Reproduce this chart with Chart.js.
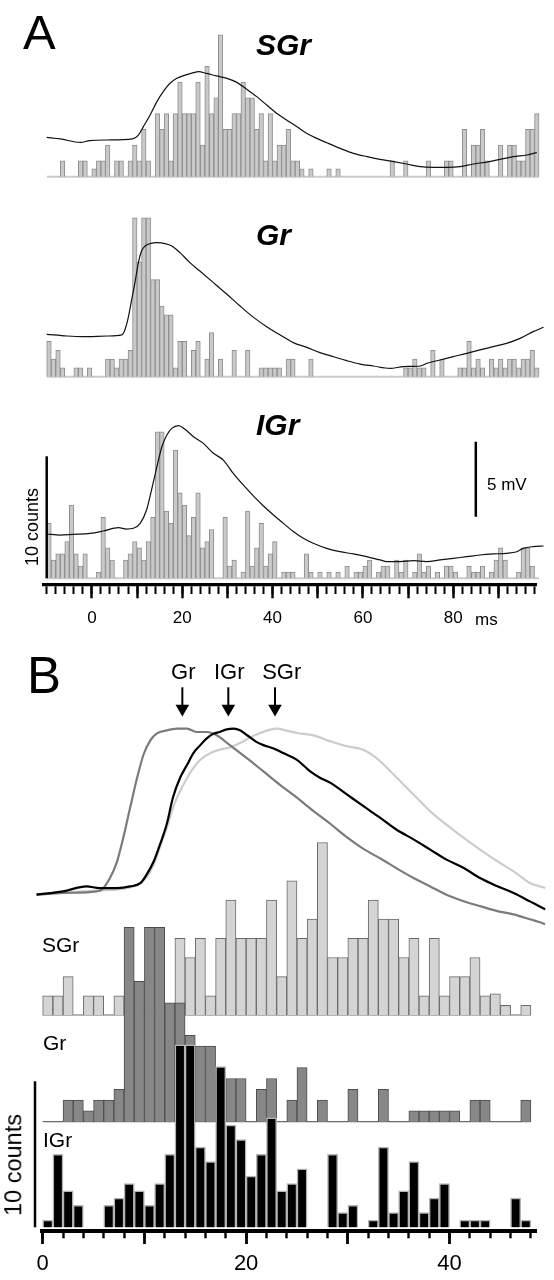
<!DOCTYPE html>
<html>
<head>
<meta charset="utf-8">
<script src="https://cdn.jsdelivr.net/npm/chart.js@4.4.1/dist/chart.umd.min.js"></script>
<style>
  body { margin: 0; background: #fff; }
  #wrap { position: relative; width: 554px; height: 1280px; overflow: hidden; font-family: "Liberation Sans", Arial, sans-serif; }
  canvas { position: absolute; left: 0; }
  .t { position: absolute; white-space: nowrap; line-height: 1; color: #000; }
</style>
</head>
<body>
<div id="wrap">
  <canvas id="chartA" width="554" height="640" style="top:0"></canvas>
  <canvas id="chartB" width="554" height="640" style="top:640px"></canvas>
</div>
<script>
// ---------- Panel A: 1 ms bins starting at -10 ms ----------
const binStartA = -10;
const countsSGrA = [
  0,0,0,1,0,0,0,1,1,0,  0.5,1,1,2,0,1,1,0,1,2,  1,3,1,0,4,3,4,1,4,6,
  4,4,4,6,2,7,4,5,9,3,  3,4,4,6,5,5,3,4,1,4,    1,2,2,3,1,1,0.5,0,0.5,0,
  0,0,0.5,0,0.5,0,0,0,0,0,  0,0,0,0,0,0,1,0,0,1,  0,0,0,0,1,0,0,0,1,1,
  0,0,3,0,2,2,3,1,0,0,  2,0,2,2,1,1,3,3,4
];
const countsGrA = [
  4,2,3,1,0,0,1,1,0,1,  0,0,0,2,2,1,2,2,3,18,  13,18,18,11,11,8,7,7,1,4,
  4,0,3,4,0,2,5,0,2,0,  0,3,0,0,3,0,0,1,1,1,   1,1,0,2,2,0,0,0,2,0,
  0,0,0,0,0,0,0,0,0,0,  0,0,0,0,0,0,0,0,0,1,   1,2,1,1,0,3,0,2,0,0,
  0,1,1,4,1,2,1,0,2,1,  2,1,2,2,1,2,2,3,1
];
const countsIGrA = [
  4.5,1.5,2,2,3,6,2,1,2,0,  0,0.5,5,2.5,1.5,0,0,1.5,2,3,  2.5,1.5,3,5,12,12,5.5,4.5,10.5,7,
  6,3.5,5,7,2.5,3,4,0,0,5,  1,1.5,0,0.5,5.5,1,2.5,4.5,1,2,  3,0,0.5,0.5,0.5,0,0,2,0.5,0,
  0.5,0,0.5,0,0.5,0,1,0,0.5,0.5,  1,1.5,0,0.5,1,1,0,1.5,0.5,1.5,  0,0.5,2,0.5,1,0,0.5,0,1,1,
  0.5,0,0,1,0.5,0.5,1,0,0.5,1.5,  2.5,1.5,0,0,0.5,2.5,2.5,1,0
];

// membrane potential (mV, relative to pre-stimulus level)
const timeSGrA = [-10,-7,-2.5,-0.5,3.5,9,10.3,11.4,12.9,14.4,15.8,17.3,18.8,20.3,22.5,23.6,25.4,27.6,29.9,32.1,34.3,36.5,38.7,40.9,43.1,45.4,47.6,49.8,52,55,57.9,60.9,63.8,66.8,69.7,72.7,75.6,78.6,81.5,84.5,87.4,90.4,93.3,96.3,98.5,100];
const mvSGrA = [0.18,0.07,-0.16,-0.04,0,0.07,0.33,0.89,1.67,2.56,3.22,3.78,4.11,4.29,4.49,4.56,4.44,4.27,4.11,3.84,3.38,2.89,2.33,1.78,1.33,0.89,0.44,0.11,-0.18,-0.56,-0.89,-1.11,-1.29,-1.44,-1.6,-1.78,-1.82,-1.82,-1.78,-1.6,-1.47,-1.29,-1.11,-1.0,-0.84,-0.73];
const timeGrA = [-10,-5.5,-2,3.5,6.6,7.3,8.1,8.8,9.6,10.3,11,11.8,12.9,14.4,16.2,17.7,19.5,21.7,23.9,26.9,29.9,32.8,35.8,38.7,41.7,44.6,47.6,50.5,53.5,56.4,59.4,62.3,66,69,72.7,74.2,77.1,80,83,85.9,88.9,91.8,94.8,97.7,100];
const mvGrA = [0.11,0,-0.04,0,0.07,0.4,1.29,2.4,3.67,4.89,5.67,6.0,6.16,6.22,6.16,6.0,5.56,4.89,4.33,3.56,2.78,2.0,1.24,0.62,0.07,-0.44,-0.76,-1.11,-1.38,-1.64,-1.87,-2.0,-2.16,-2.04,-2.0,-1.82,-1.6,-1.38,-1.16,-0.93,-0.71,-0.49,-0.16,0.29,0.58];
const timeIGrA = [-10,-7,-4.1,-0.4,2.5,5.9,7.7,9.2,10.7,12.1,13.2,14.4,15.5,16.6,17.7,19.2,20.6,22.5,24.7,26.9,29.1,31.3,33.5,35.8,38,40.2,42.4,44.6,46.8,49,52,54.9,57.9,60.8,63.8,65.3,68.2,71.2,74.1,77.1,80,83,85.9,88.9,91.8,94.1,95.5,97.7,100];
const mvIGrA = [0,-0.07,-0.02,0.04,0.2,0.42,0.33,0.38,0.71,1.6,2.93,4.49,5.82,6.6,7.04,7.22,6.98,6.49,6.04,5.38,4.93,4.04,3.27,2.53,1.87,1.27,0.71,0.16,-0.29,-0.62,-0.96,-1.18,-1.33,-1.51,-1.73,-1.84,-1.84,-1.78,-1.84,-1.73,-1.62,-1.51,-1.4,-1.33,-1.29,-1.18,-0.96,-0.84,-0.8];

const tickLabelsA = [0, 20, 40, 60, 80];

// ---------- Panel B: 1 ms bins from 0 ----------
const binStartB = 0;
const countsSGrB = [1,1,2,0,1,1,0,1,0,0, 0,0,0,4,3,4,1,4,6,4, 4,4,6,2,7,4,5,9,3,3, 4,4,6,5,5,3,4,1,4,1, 2,2,3,1,1.1,0.5,0,0.5];
const countsGrB  = [0,0,1,1,0.5,1,1,1.5,9,6.5, 9,9,5.5,5.5,4,3.5,3.5,2,2,2, 0,1.5,2,0,1,2.5,0,1,0,0, 1.5,0,0,1.5,0,0,0.5,0.5,0.5,0.5, 0.5,0,1,1,0,0,0,1];
const countsIGrB = [0.5,5,2.5,1.5,0,0,1.5,2,3,2.5, 1.5,3,5,12.5,12.5,5.5,4.5,11,7,6, 3.5,5,7.5,2.5,3,4,0,0,5,1, 1.5,0,0.5,5.5,1,2.5,4.5,1,2,3, 0,0.5,0.5,0.5,0,0,2,0.5];

// normalised averaged PSPs
const timeGrB = [-0.6,2,5.3,5.8,6.6,7.3,7.9,8.6,9.2,9.9,10.6,11.2,12.2,13.2,14.2,15.1,16.1,17.1,18.4,20.1,21.7,23.3,25,26.6,28.3,29.9,31.5,33.2,34.8,36.5,38.1,39.7,41.4,43,44.7,46.3,47.9,49.4,50.3];
const normGrB = [-0.01,0,0.01,0.02,0.09,0.19,0.33,0.52,0.68,0.84,0.93,0.97,0.99,1,1,0.98,0.98,0.96,0.9,0.82,0.74,0.66,0.58,0.5,0.42,0.34,0.27,0.21,0.15,0.09,0.04,-0.01,-0.05,-0.08,-0.11,-0.13,-0.16,-0.19,-0.225];
const timeIGrB = [-0.6,2,4.3,5.6,7.3,8.6,9.6,10.2,10.9,11.5,12.2,12.8,13.5,14.2,14.8,15.5,16.1,16.8,17.4,18.1,18.8,19.4,20.1,21,21.7,22.7,23.7,25,26.3,27.3,28.3,29.9,31.5,33.2,34.8,36.5,38.1,39.7,41.4,43,44.7,46.3,47.9,49.4,50.3];
const normIGrB = [-0.01,0.01,0.04,0.03,0.03,0.04,0.06,0.11,0.19,0.29,0.42,0.58,0.7,0.78,0.85,0.9,0.94,0.97,0.98,0.996,1,0.99,0.96,0.92,0.9,0.88,0.85,0.81,0.74,0.7,0.67,0.6,0.53,0.457,0.385,0.325,0.264,0.203,0.152,0.091,0.041,0,-0.051,-0.1,-0.14];
const timeSGrB = [-0.6,2,5.3,8.6,9.6,10.2,10.9,11.5,12.2,12.8,13.5,14.2,14.8,15.5,16.5,17.4,18.4,19.4,20.4,21.4,22.4,23,24,25,26.6,28.3,29.9,31.5,32.8,34.2,35.5,36.8,38.1,39.7,41.4,43,44.7,46.3,47.9,49.4,50.3];
const normSGrB = [-0.01,0.004,0.014,0.034,0.061,0.095,0.172,0.274,0.396,0.517,0.619,0.7,0.76,0.811,0.852,0.872,0.886,0.913,0.947,0.974,0.994,1,0.988,0.974,0.959,0.923,0.893,0.872,0.822,0.74,0.659,0.578,0.497,0.416,0.335,0.264,0.193,0.132,0.061,0.03,0];

const peakNames = ['Gr', 'IGr', 'SGr'];
const peakTimesB = [13.73, 18.25, 22.84];
const tickLabelsB = [0, 20, 40];

// ---------- helpers ----------
const FONT = '"Liberation Sans", Arial, sans-serif';
const bars = (counts, start) => counts.map((c, i) => ({ x: start + i + 0.5, y: c }));
const pts = (t, v) => t.map((x, i) => ({ x, y: v[i] }));
// value axis whose zero sits at basePx, pxPerUnit pixels per unit, in a chart area of height h
function yAxis(basePx, pxPerUnit, h) {
  const min = (basePx - h) / pxPerUnit;
  return { type: 'linear', display: false, bounds: 'data', min, max: min + h / pxPerUnit };
}
function stepTicks(from, to, step) {
  const out = [];
  for (let v = from; v <= to + 1e-9; v += step) out.push({ value: v });
  return out;
}

// scale bars and arrows, drawn from the chart scales
const marksPlugin = {
  id: 'marks',
  afterDatasetsDraw(chart, args, opts) {
    const ctx = chart.ctx;
    ctx.save();
    ctx.strokeStyle = '#000';
    ctx.fillStyle = '#000';
    (opts.bars || []).forEach(b => {
      const x = chart.scales.x.getPixelForValue(b.x);
      const ys = chart.scales[b.axis];
      ctx.lineWidth = b.width;
      ctx.beginPath();
      ctx.moveTo(x, ys.getPixelForValue(b.from));
      ctx.lineTo(x, ys.getPixelForValue(b.to));
      ctx.stroke();
    });
    if (opts.arrows) {
      const a = opts.arrows;
      const ys = chart.scales[a.axis];
      a.xs.forEach(v => {
        const x = chart.scales.x.getPixelForValue(v);
        const yTop = ys.getPixelForValue(a.top), yHead = ys.getPixelForValue(a.head), yTip = ys.getPixelForValue(a.tip);
        ctx.lineWidth = 2;
        ctx.beginPath(); ctx.moveTo(x, yTop); ctx.lineTo(x, yHead + 1); ctx.stroke();
        ctx.beginPath(); ctx.moveTo(x - a.half, yHead); ctx.lineTo(x + a.half, yHead); ctx.lineTo(x, yTip); ctx.closePath(); ctx.fill();
      });
    }
    ctx.restore();
  }
};

function xAxes(min, max, minorTicks, majorTicks, labels, o) {
  return {
    x: {
      type: 'linear', position: 'bottom', weight: 0, bounds: 'data', min, max, offset: false,
      afterBuildTicks: ax => { ax.ticks = minorTicks; },
      afterFit: ax => { ax.height = 0; },
      grid: { offset: false, drawOnChartArea: false, drawTicks: true, tickLength: o.minorLen, tickWidth: o.tickWidth, tickColor: '#000' },
      border: { display: true, color: '#000', width: o.lineWidth },
      ticks: { display: false, autoSkip: false }
    },
    xMajor: {
      type: 'linear', position: 'bottom', weight: 1, bounds: 'data', min, max, offset: false,
      afterBuildTicks: ax => { ax.ticks = majorTicks; },
      afterFit: ax => { ax.height = o.axisHeight; },
      grid: { offset: false, drawOnChartArea: false, drawTicks: true, tickLength: o.majorLen, tickWidth: o.tickWidth + 0.4, tickColor: '#000' },
      border: { display: false },
      ticks: {
        autoSkip: false, maxRotation: 0, minRotation: 0, padding: o.pad, color: '#000',
        font: { family: FONT, size: o.fontSize },
        callback: v => labels.includes(v) ? String(v) : ''
      }
    }
  };
}

const common = {
  responsive: false,
  animation: false,
  events: [],
  plugins: { legend: { display: false }, tooltip: { enabled: false } }
};

// ---------- Chart A ----------
const HA = 584.3;
const barStyleA = { backgroundColor: '#c9c9c9', borderColor: '#8e8e8e', borderWidth: 1, barPercentage: 1, categoryPercentage: 1, grouped: false, clip: false, order: 1 };
const traceStyleA = { type: 'line', borderColor: '#111', borderWidth: 1.2, pointRadius: 0, cubicInterpolationMode: 'monotone', clip: false, order: 0 };
const baseStyleA = { type: 'line', borderColor: '#cbcbcb', borderWidth: 2, pointRadius: 0, clip: false, order: 2 };
const spanA = [{ x: binStartA, y: 0 }, { x: binStartA + countsSGrA.length, y: 0 }];

new Chart(document.getElementById('chartA'), {
  type: 'bar',
  data: {
    datasets: [
      { ...traceStyleA, label: 'SGr PSP', data: pts(timeSGrA, mvSGrA), yAxisID: 'mSG' },
      { ...traceStyleA, label: 'Gr PSP', data: pts(timeGrA, mvGrA), yAxisID: 'mG' },
      { ...traceStyleA, label: 'IGr PSP', data: pts(timeIGrA, mvIGrA), yAxisID: 'mIG' },
      { ...barStyleA, label: 'SGr', data: bars(countsSGrA, binStartA), yAxisID: 'hSG' },
      { ...barStyleA, label: 'Gr', data: bars(countsGrA, binStartA), yAxisID: 'hG' },
      { ...barStyleA, label: 'IGr', data: bars(countsIGrA, binStartA), yAxisID: 'hIG' },
      { ...baseStyleA, data: spanA, yAxisID: 'hSG' },
      { ...baseStyleA, data: spanA, yAxisID: 'hG' },
      { ...baseStyleA, data: spanA, yAxisID: 'hIG' }
    ]
  },
  options: {
    ...common,
    layout: { padding: { left: 44, right: 17.3, top: 0, bottom: 0 } },
    scales: {
      ...xAxes(-10.6, 98.48, stepTicks(-10, 98, 2), stepTicks(0, 90, 10), tickLabelsA,
        { minorLen: 9.7, majorLen: 14, tickWidth: 2, lineWidth: 3.3, axisHeight: 640 - HA, pad: 10, fontSize: 17 }),
      hSG: yAxis(176.7, 15.77, HA),
      hG: yAxis(376.7, 8.83, HA),
      hIG: yAxis(578.3, 12.2, HA),
      mSG: yAxis(140, 15, HA),
      mG: yAxis(336, 15, HA),
      mIG: yAxis(534, 15, HA)
    },
    plugins: {
      ...common.plugins,
      marks: {
        bars: [
          { x: -10, axis: 'hIG', from: 0, to: 10, width: 2.5 },
          { x: 85, axis: 'mIG', from: 1.15, to: 6.15, width: 2.5 }
        ]
      }
    }
  },
  plugins: [marksPlugin]
});

// ---------- Chart B ----------
const HB = 591.3;
const traceStyleB = { type: 'line', borderWidth: 2.2, pointRadius: 0, cubicInterpolationMode: 'monotone', clip: false, yAxisID: 'tr' };
const barStyleB = { barPercentage: 1, categoryPercentage: 1, grouped: false, clip: false };
const spanB = [{ x: binStartB, y: 0 }, { x: binStartB + countsSGrB.length, y: 0 }];

new Chart(document.getElementById('chartB'), {
  type: 'bar',
  data: {
    datasets: [
      { ...traceStyleB, label: 'IGr PSP', data: pts(timeIGrB, normIGrB), borderColor: '#000', order: 0 },
      { ...traceStyleB, label: 'Gr PSP', data: pts(timeGrB, normGrB), borderColor: '#7b7b7b', order: 1 },
      { ...traceStyleB, label: 'SGr PSP', data: pts(timeSGrB, normSGrB), borderColor: '#cccccc', order: 2 },
      { ...barStyleB, label: 'IGr', data: bars(countsIGrB, binStartB), yAxisID: 'hIG', backgroundColor: '#000', borderColor: '#b4b4b4', borderWidth: 1.5, order: 3 },
      { ...barStyleB, label: 'Gr', data: bars(countsGrB, binStartB), yAxisID: 'hG', backgroundColor: '#878787', borderColor: '#4d4d4d', borderWidth: 1, order: 4 },
      { ...barStyleB, label: 'SGr', data: bars(countsSGrB, binStartB), yAxisID: 'hSG', backgroundColor: '#d4d4d4', borderColor: '#6a6a6a', borderWidth: 1, order: 5 },
      { type: 'line', data: spanB, yAxisID: 'hSG', borderColor: '#6a6a6a', borderWidth: 1.2, pointRadius: 0, clip: false, order: 6 },
      { type: 'line', data: spanB, yAxisID: 'hG', borderColor: '#6a6a6a', borderWidth: 1.2, pointRadius: 0, clip: false, order: 6 }
    ]
  },
  options: {
    ...common,
    layout: { padding: { left: 41.7, right: 17.3, top: 0, bottom: 0 } },
    scales: {
      ...xAxes(-0.098, 48.57, stepTicks(0, 48, 2), stepTicks(0, 40, 10), tickLabelsB,
        { minorLen: 7, majorLen: 12.7, tickWidth: 2.4, lineWidth: 4, axisHeight: 640 - HB, pad: 7, fontSize: 22 }),
      tr: yAxis(253, 164.3, HB),
      hSG: yAxis(375, 19.17, HB),
      hG: yAxis(481.7, 21.6, HB),
      hIG: yAxis(587.3, 14.6, HB)
    },
    plugins: {
      ...common.plugins,
      marks: {
        bars: [{ x: -0.757, axis: 'hIG', from: 0, to: 10, width: 2.5 }],
        arrows: { xs: peakTimesB, axis: 'tr', top: 1.252, head: 1.146, tip: 1.075, half: 6.8 }
      }
    }
  },
  plugins: [marksPlugin]
});

// ---------- text ----------
const wrap = document.getElementById('wrap');
function addText(str, x, base, size, o = {}) {
  const d = document.createElement('div');
  d.className = 't';
  d.textContent = str;
  d.style.fontSize = size + 'px';
  if (o.bold) d.style.fontWeight = 'bold';
  if (o.italic) d.style.fontStyle = 'italic';
  d.style.left = x + 'px';
  if (o.rotate) {
    d.style.top = base + 'px';
    d.style.transform = 'translate(-50%,-50%) rotate(-90deg)';
  } else {
    d.style.top = (base - 0.8465 * size) + 'px';
    if (o.center) d.style.transform = 'translateX(-50%)';
  }
  wrap.appendChild(d);
}

addText('A', 23, 49.5, 49);
addText('SGr', 256, 55, 30, { bold: true, italic: true });
addText('Gr', 256, 245, 30, { bold: true, italic: true });
addText('IGr', 256, 435, 30, { bold: true, italic: true });
addText('5 mV', 487, 490, 17);
addText('10 counts', 31.8, 527, 18, { rotate: true });
addText('ms', 475, 625, 17);

addText('B', 27, 693, 51);
const arrowLabelX = [183.3, 229.2, 281.7];
peakNames.forEach((n, i) => addText(n, arrowLabelX[i], 680, 22, { center: true }));
addText('SGr', 42, 951.5, 21);
addText('Gr', 43, 1050, 21);
addText('IGr', 43, 1147, 21);
addText('10 counts', 14, 1165, 23.5, { rotate: true });
</script>
</body>
</html>
